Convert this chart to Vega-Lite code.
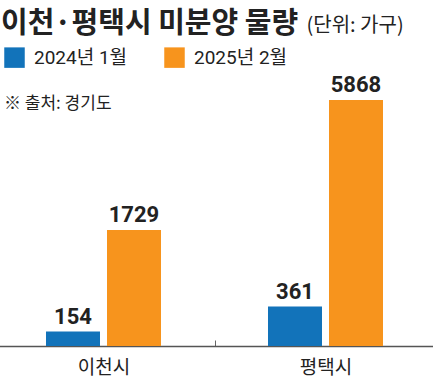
{
  "$schema": "https://vega.github.io/schema/vega-lite/v6.json",
  "autosize": {"type": "none"},
  "padding": {"top": 100, "left": 0, "right": 0, "bottom": 40},
  "width": 433,
  "height": 246,
  "background": "white",
  "title": {
    "text": "이천·평택시 미분양 물량",
    "anchor": "start",
    "frame": "group",
    "orient": "top",
    "font": "Noto Sans CJK KR",
    "fontSize": 29,
    "fontWeight": "bold",
    "color": "#222222",
    "baseline": "alphabetic",
    "offset": -47,
    "dx": 1
  },
  "data": {
    "values": [
      {"city": "이천시", "period": "2024년 1월", "value": 154},
      {"city": "이천시", "period": "2025년 2월", "value": 1729},
      {"city": "평택시", "period": "2024년 1월", "value": 361},
      {"city": "평택시", "period": "2025년 2월", "value": 5868}
    ]
  },
  "encoding": {
    "x": {
      "field": "city",
      "type": "nominal",
      "sort": ["이천시", "평택시"],
      "scale": {"range": [-7.5, 436.5], "paddingInner": 0, "paddingOuter": 0},
      "axis": {
        "title": null,
        "orient": "bottom",
        "domainColor": "#555555",
        "domainWidth": 1.5,
        "tickBand": "extent",
        "tickColor": "#666666",
        "tickWidth": 1,
        "tickSize": -6,
        "labelFont": "Noto Sans CJK KR",
        "labelFontSize": 19,
        "labelColor": "#222222",
        "labelPadding": 18,
        "labelAngle": 0
      }
    },
    "xOffset": {
      "field": "period",
      "type": "nominal",
      "sort": ["2024년 1월", "2025년 2월"],
      "scale": {"paddingInner": 0.1148, "paddingOuter": 0.877}
    },
    "y": {
      "field": "value",
      "type": "quantitative",
      "scale": {"domain": [0, 154, 361, 1729, 5868], "range": [246, 231.5, 206.5, 130, 0], "nice": false, "zero": false},
      "axis": {
        "orient": "left",
        "labels": false,
        "ticks": false,
        "domain": false,
        "grid": false,
        "title": "(단위: 가구)",
        "titleAngle": 0,
        "titleX": 306,
        "titleY": -69,
        "titleAlign": "left",
        "titleBaseline": "alphabetic",
        "titleFont": "Noto Sans CJK KR",
        "titleFontSize": 20,
        "titleFontWeight": "normal",
        "titleColor": "#222222"
      }
    }
  },
  "layer": [
    {
      "mark": {"type": "bar"},
      "encoding": {
        "color": {
          "field": "period",
          "type": "nominal",
          "sort": ["2024년 1월", "2025년 2월"],
          "scale": {"domain": ["2024년 1월", "2025년 2월"], "range": ["#1273ba", "#f7941d"]},
          "legend": {
            "orient": "none",
            "legendX": 4,
            "legendY": -53,
            "direction": "horizontal",
            "title": "※ 출처: 경기도",
            "titleOrient": "bottom",
            "titleAnchor": "start",
            "titleFont": "Noto Sans CJK KR",
            "titleFontSize": 17,
            "titleFontWeight": "normal",
            "titleColor": "#222222",
            "titlePadding": 28,
            "symbolType": "square",
            "symbolSize": 420,
            "symbolStrokeWidth": 0,
            "symbolOpacity": 1,
            "labelFont": "Roboto, Noto Sans CJK KR",
            "labelFontSize": 19,
            "labelColor": "#222222",
            "labelOffset": 9,
            "columnPadding": 36,
            "padding": 0
          }
        }
      }
    },
    {
      "mark": {
        "type": "text",
        "baseline": "alphabetic",
        "dy": -8,
        "font": "Roboto, Noto Sans CJK KR",
        "fontSize": 22,
        "fontWeight": "bold",
        "color": "#222222"
      },
      "encoding": {
        "text": {"field": "value", "type": "quantitative", "format": "d"}
      }
    }
  ],
  "config": {
    "view": {"stroke": null}
  }
}
